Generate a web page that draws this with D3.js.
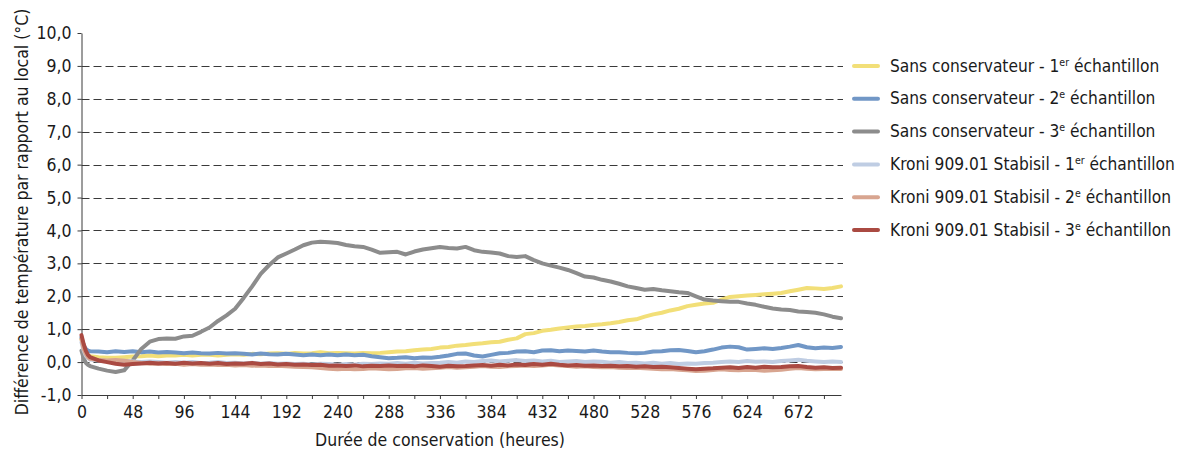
<!DOCTYPE html>
<html>
<head>
<meta charset="utf-8">
<script src="https://cdn.jsdelivr.net/npm/d3@7"></script>
<style>
  body { margin: 0; background: #ffffff; }
  svg text { font-family: "Liberation Sans Narrow", "DejaVu Sans Condensed", "Open Sans", sans-serif; fill: #1a1a1a; }
</style>
</head>
<body>
<svg id="chart" width="1194" height="453"></svg>
<script>
// Sampling instants (hours of storage)
const hours = [0, 2, 4, 6, 8, 16, 24, 32, 40, 48,
  56, 64, 72, 80, 88, 96, 104, 112, 120, 128,
  136, 144, 152, 160, 168, 176, 184, 192, 200, 208,
  216, 224, 232, 240, 248, 256, 264, 272, 280, 288,
  296, 304, 312, 320, 328, 336, 344, 352, 360, 368,
  376, 384, 392, 400, 408, 416, 424, 432, 440, 448,
  456, 464, 472, 480, 488, 496, 504, 512, 520, 528,
  536, 544, 552, 560, 568, 576, 584, 592, 600, 608,
  616, 624, 632, 640, 648, 656, 664, 672, 680, 688,
  696, 704, 712];

// Temperature difference to the room (°C), one array per sample
const sansConservateur1 = [0.70, 0.45, 0.30, 0.22, 0.18, 0.15, 0.13, 0.13, 0.15, 0.17,
  0.18, 0.20, 0.18, 0.20, 0.20, 0.22, 0.20, 0.22, 0.22, 0.20,
  0.22, 0.24, 0.22, 0.25, 0.24, 0.26, 0.27, 0.25, 0.28, 0.26,
  0.27, 0.30, 0.27, 0.28, 0.27, 0.26, 0.28, 0.27, 0.28, 0.30,
  0.32, 0.33, 0.36, 0.38, 0.40, 0.44, 0.46, 0.50, 0.52, 0.55,
  0.57, 0.60, 0.62, 0.68, 0.72, 0.85, 0.88, 0.95, 0.98, 1.02,
  1.05, 1.08, 1.10, 1.13, 1.15, 1.18, 1.22, 1.27, 1.30, 1.38,
  1.45, 1.50, 1.57, 1.62, 1.70, 1.74, 1.78, 1.80, 1.90, 1.98,
  2.00, 2.02, 2.04, 2.06, 2.08, 2.10, 2.15, 2.20, 2.25, 2.24,
  2.22, 2.25, 2.30];

const sansConservateur2 = [0.75, 0.50, 0.40, 0.35, 0.33, 0.32, 0.30, 0.33, 0.31, 0.33,
  0.30, 0.32, 0.29, 0.31, 0.29, 0.27, 0.29, 0.27, 0.26, 0.28,
  0.26, 0.27, 0.25, 0.23, 0.26, 0.24, 0.23, 0.25, 0.23, 0.21,
  0.23, 0.21, 0.23, 0.21, 0.23, 0.21, 0.22, 0.18, 0.15, 0.12,
  0.13, 0.15, 0.12, 0.14, 0.13, 0.16, 0.20, 0.25, 0.26, 0.20,
  0.17, 0.22, 0.27, 0.28, 0.32, 0.33, 0.30, 0.35, 0.36, 0.33,
  0.35, 0.34, 0.32, 0.35, 0.32, 0.30, 0.30, 0.28, 0.27, 0.28,
  0.32, 0.33, 0.36, 0.37, 0.34, 0.30, 0.33, 0.38, 0.44, 0.47,
  0.45, 0.38, 0.40, 0.42, 0.40, 0.43, 0.47, 0.52, 0.45, 0.42,
  0.44, 0.43, 0.46];

const sansConservateur3 = [0.35, 0.13, -0.02, -0.08, -0.12, -0.20, -0.26, -0.30, -0.25, 0.05,
  0.40, 0.62, 0.70, 0.72, 0.71, 0.78, 0.80, 0.92, 1.05, 1.25,
  1.42, 1.62, 1.95, 2.30, 2.68, 2.95, 3.18, 3.30, 3.42, 3.55,
  3.63, 3.66, 3.64, 3.62, 3.56, 3.52, 3.50, 3.42, 3.32, 3.34,
  3.35, 3.27, 3.36, 3.42, 3.46, 3.50, 3.47, 3.45, 3.50, 3.40,
  3.35, 3.33, 3.30, 3.22, 3.19, 3.22, 3.10, 3.00, 2.93, 2.87,
  2.80, 2.70, 2.60, 2.57, 2.50, 2.45, 2.38, 2.30, 2.25, 2.20,
  2.22, 2.18, 2.15, 2.12, 2.10, 2.00, 1.90, 1.87, 1.85, 1.83,
  1.83, 1.78, 1.74, 1.68, 1.63, 1.60, 1.58, 1.54, 1.52, 1.50,
  1.45, 1.38, 1.33];

const stabisil1 = [0.60, 0.35, 0.20, 0.12, 0.08, 0.05, 0.03, 0.02, 0.04, 0.02,
  0.00, 0.02, 0.00, -0.02, 0.00, -0.02, 0.00, -0.03, -0.02, 0.00,
  -0.03, -0.02, -0.04, -0.02, -0.05, -0.03, -0.05, -0.04, -0.06, -0.05,
  -0.07, -0.05, -0.06, -0.08, -0.06, -0.07, -0.05, -0.06, -0.04, -0.05,
  -0.03, -0.05, -0.02, -0.04, -0.03, -0.02, 0.00, -0.02, 0.02, 0.00,
  0.03, 0.05, 0.02, 0.04, 0.06, 0.03, 0.05, 0.02, 0.04, 0.00,
  0.02, 0.03, 0.00, 0.02, 0.01, -0.02, 0.00, -0.03, -0.02, -0.04,
  -0.02, -0.05, -0.03, -0.06, -0.04, -0.05, -0.03, -0.02, 0.00, 0.02,
  0.00, 0.03, 0.01, 0.02, 0.00, 0.03, 0.05, 0.07, 0.04, 0.02,
  0.00, 0.02, 0.00];

const stabisil2 = [0.70, 0.40, 0.25, 0.15, 0.10, 0.06, 0.05, 0.06, 0.04, 0.00,
  -0.03, -0.05, -0.04, -0.06, -0.05, -0.08, -0.06, -0.08, -0.07, -0.09,
  -0.08, -0.10, -0.09, -0.11, -0.10, -0.12, -0.11, -0.13, -0.14, -0.15,
  -0.16, -0.18, -0.20, -0.22, -0.20, -0.22, -0.21, -0.19, -0.20, -0.22,
  -0.21, -0.19, -0.18, -0.20, -0.19, -0.17, -0.15, -0.17, -0.16, -0.14,
  -0.12, -0.14, -0.15, -0.13, -0.12, -0.10, -0.12, -0.10, -0.08, -0.10,
  -0.12, -0.14, -0.13, -0.15, -0.16, -0.15, -0.17, -0.18, -0.17, -0.19,
  -0.20, -0.22, -0.21, -0.23, -0.25, -0.27, -0.26, -0.24, -0.22, -0.24,
  -0.25, -0.23, -0.24, -0.26, -0.25, -0.23, -0.20, -0.18, -0.20, -0.22,
  -0.21, -0.20, -0.21];

const stabisil3 = [0.82, 0.55, 0.35, 0.22, 0.15, 0.05, 0.00, -0.05, -0.08, -0.06,
  -0.04, -0.02, -0.04, -0.03, -0.05, -0.02, -0.04, -0.03, -0.05, -0.03,
  -0.06, -0.04, -0.05, -0.03, -0.06, -0.04, -0.07, -0.06, -0.08, -0.07,
  -0.09, -0.08, -0.11, -0.10, -0.12, -0.10, -0.13, -0.11, -0.12, -0.10,
  -0.12, -0.11, -0.13, -0.10, -0.12, -0.14, -0.11, -0.13, -0.12, -0.10,
  -0.09, -0.11, -0.08, -0.10, -0.07, -0.09, -0.06, -0.08, -0.05, -0.08,
  -0.10, -0.09, -0.11, -0.10, -0.12, -0.11, -0.13, -0.12, -0.14, -0.13,
  -0.15, -0.14, -0.16, -0.18, -0.20, -0.22, -0.20, -0.19, -0.17, -0.16,
  -0.18, -0.15, -0.17, -0.14, -0.16, -0.15, -0.13, -0.12, -0.15, -0.17,
  -0.16, -0.18, -0.17];

// Legend labels: [main text, ordinal number, superscript suffix, trailing word]
const seriesLabels = [
  ["Sans conservateur - ", "1", "er", " échantillon"],
  ["Sans conservateur - ", "2", "e", " échantillon"],
  ["Sans conservateur - ", "3", "e", " échantillon"],
  ["Kroni 909.01 Stabisil - ", "1", "er", " échantillon"],
  ["Kroni 909.01 Stabisil - ", "2", "e", " échantillon"],
  ["Kroni 909.01 Stabisil - ", "3", "e", " échantillon"]
];
const seriesColors = ["#f2df78", "#7197c6", "#8c8c8c", "#bfcde3", "#d8a590", "#aa4a42"];
const seriesValues = [sansConservateur1, sansConservateur2, sansConservateur3, stabisil1, stabisil2, stabisil3];

const yTicks = [-1, 0, 1, 2, 3, 4, 5, 6, 7, 8, 9, 10];
const yGrid = [0, 1, 2, 3, 4, 5, 6, 7, 8, 9];
const xLabels = [0, 48, 96, 144, 192, 240, 288, 336, 384, 432, 480, 528, 576, 624, 672];
const xTickMarks = [0, 24, 48, 72, 96, 120, 144, 168, 192, 216, 240, 264, 288, 312, 336, 360, 384, 408, 432, 456, 480, 504, 528, 552, 576, 600, 624, 648, 672, 696];
const xTitle = "Durée de conservation (heures)";
const yTitle = "Différence de température par rapport au local (°C)";

const svg = d3.select("#chart");
const plotLeft = 81.5, plotRight = 841, plotTop = 33, plotBottom = 395;

const x = d3.scaleLinear().domain([0, 712]).range([plotLeft, plotRight]);
const y = d3.scaleLinear().domain([-1, 10]).range([plotBottom, plotTop]);

const frLocale = d3.formatLocale({ decimal: ",", thousands: " ", grouping: [3], currency: ["", " €"], minus: "-" });
const fmt = frLocale.format(".1f");

// Dashed horizontal gridlines
svg.append("g")
  .selectAll("line")
  .data(yGrid)
  .join("line")
  .attr("x1", plotLeft)
  .attr("x2", plotRight + 2)
  .attr("y1", d => Math.round(y(d)) + 0.5)
  .attr("y2", d => Math.round(y(d)) + 0.5)
  .attr("stroke", "#3a3a3a")
  .attr("stroke-width", 1)
  .attr("stroke-dasharray", "8,4");

// Y axis
const yAxis = svg.append("g")
  .attr("transform", `translate(${plotLeft},0)`)
  .call(d3.axisLeft(y).tickValues(yTicks).tickSize(4).tickSizeOuter(0).tickFormat(fmt).tickPadding(6));
yAxis.select(".domain").attr("stroke", "#3a3a3a");
yAxis.selectAll(".tick line").attr("stroke", "#3a3a3a");
yAxis.selectAll(".tick text").attr("font-size", 17.5).attr("fill", "#1a1a1a");

// X axis
const xAxis = svg.append("g")
  .attr("transform", `translate(0,${plotBottom})`)
  .call(d3.axisBottom(x).tickValues(xTickMarks).tickSize(4).tickSizeOuter(0)
    .tickFormat(d => xLabels.includes(d) ? String(d) : "").tickPadding(7));
xAxis.select(".domain").attr("stroke", "#3a3a3a");
xAxis.selectAll(".tick line").attr("stroke", "#3a3a3a");
xAxis.selectAll(".tick text").attr("font-size", 17.5).attr("fill", "#1a1a1a");

// Series lines, drawn in series order
const line = d3.line()
  .x((d, i) => x(hours[i]))
  .y(d => y(d));

svg.append("g")
  .selectAll("path")
  .data(seriesValues)
  .join("path")
  .attr("d", d => line(d))
  .attr("fill", "none")
  .attr("stroke", (d, i) => seriesColors[i])
  .attr("stroke-width", 4)
  .attr("stroke-linejoin", "round")
  .attr("stroke-linecap", "round");

// Axis titles
svg.append("text")
  .attr("x", 440)
  .attr("y", 446)
  .attr("text-anchor", "middle")
  .attr("font-size", 17.5)
  .text(xTitle);

svg.append("text")
  .attr("transform", "translate(28,212) rotate(-90)")
  .attr("text-anchor", "middle")
  .attr("font-size", 17.5)
  .text(yTitle);

// Legend
const legend = svg.append("g");
const rows = legend.selectAll("g")
  .data(seriesLabels)
  .join("g")
  .attr("transform", (d, i) => `translate(0,${66 + i * 32.8})`);

rows.append("line")
  .attr("x1", 854).attr("x2", 878)
  .attr("y1", 0).attr("y2", 0)
  .attr("stroke", (d, i) => seriesColors[i])
  .attr("stroke-width", 4)
  .attr("stroke-linecap", "round");

const labels = rows.append("text")
  .attr("x", 890)
  .attr("y", 5.5)
  .attr("font-size", 17.2);
labels.append("tspan").text(d => d[0] + d[1]);
labels.append("tspan").attr("font-size", 10.5).attr("dy", -6).text(d => d[2]);
labels.append("tspan").attr("dy", 6).text(d => d[3]);
</script>
</body>
</html>
